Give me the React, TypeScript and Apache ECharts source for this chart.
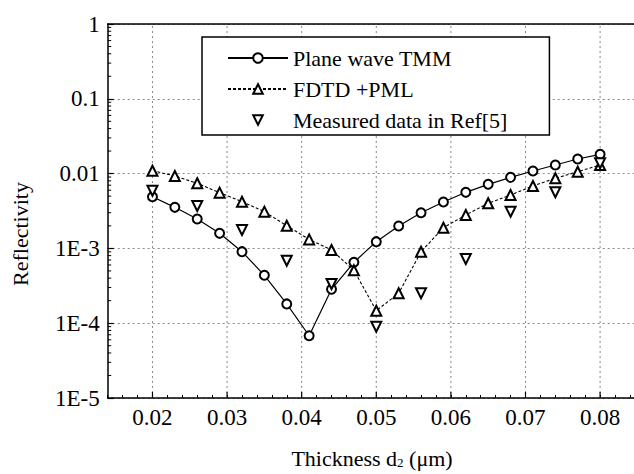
import React, { useEffect, useRef } from "react";
import * as echarts from "echarts";

const xValues = [0.020, 0.023, 0.026, 0.029, 0.032, 0.035, 0.038, 0.041, 0.044, 0.047, 0.050, 0.053, 0.056, 0.059, 0.062, 0.065, 0.068, 0.071, 0.074, 0.077, 0.080];
const tmmValues = [0.00491, 0.00354, 0.00247, 0.00159, 0.000904, 0.000437, 0.000181, 0.000068, 0.000284, 0.000652, 0.00123, 0.00199, 0.0030, 0.00417, 0.00562, 0.00719, 0.00891, 0.01083, 0.01303, 0.01567, 0.01811];
const fdtdValues = [0.01094, 0.00929, 0.00742, 0.00556, 0.00421, 0.00310, 0.00201, 0.00132, 0.000952, 0.000509, 0.000147, 0.000251, 0.000904, 0.00189, 0.00280, 0.00401, 0.00518, 0.00683, 0.00865, 0.01060, 0.01303];
const measuredX = [0.020, 0.026, 0.032, 0.038, 0.044, 0.050, 0.056, 0.062, 0.068, 0.074, 0.080];
const measuredValues = [0.00591, 0.00369, 0.00176, 0.000685, 0.000334, 0.0000898, 0.000251, 0.000722, 0.0031, 0.00562, 0.01374];

const seriesNames = ["Plane wave TMM", "FDTD +PML", "Measured data in Ref[5]"];
const xMajorTicks = [0.02, 0.03, 0.04, 0.05, 0.06, 0.07, 0.08];
const yTickLabels = ["1E-5", "1E-4", "1E-3", "0.01", "0.1", "1"];
const yMinorMantissas = [2, 3, 4, 5, 6, 7, 8, 9];
const yDecades = [-5, -4, -3, -2, -1];

const X_MIN = 0.014;
const X_MAX = 0.085;
const Y_MIN = 1e-5;
const Y_MAX = 1;
const FONT = "Liberation Serif, serif";

export default function App() {
  const ref = useRef<HTMLDivElement>(null);
  useEffect(() => {
    if (!ref.current) return;
    const chart = echarts.init(ref.current, undefined, { renderer: "svg" });

    const decor: number[][] = [];
    xMajorTicks.forEach((x) => decor.push([x, Y_MIN, 0]));
    yDecades.forEach((e) =>
      yMinorMantissas.forEach((m) => decor.push([X_MIN, m * Math.pow(10, e), 1]))
    );

    const option: any = {
      animation: false,
      backgroundColor: "#fff",
      grid: {
        left: 107.7,
        right: -3.4,
        top: 24,
        bottom: 76,
        show: false,
        containLabel: false,
        outerBoundsMode: "none",
      },
      legend: {
        data: seriesNames,
        orient: "vertical",
        left: 202,
        top: 37,
        padding: [10, 42, 4, 25],
        itemGap: 9,
        itemWidth: 60,
        itemHeight: 12,
        backgroundColor: "#fff",
        borderColor: "#000",
        borderWidth: 1.5,
        borderRadius: 0,
        textStyle: { fontFamily: FONT, fontSize: 22, color: "#000", lineHeight: 22 },
        selectedMode: false,
      },
      xAxis: [
        {
          type: "value",
          min: X_MIN,
          max: X_MAX,
          interval: 0.002,
          axisLine: { show: true, lineStyle: { color: "#000", width: 1.5 } },
          axisTick: { show: true, inside: true, length: 3, lineStyle: { color: "#000", width: 1 } },
          axisLabel: {
            show: true,
            margin: 8,
            fontFamily: FONT,
            fontSize: 23,
            color: "#000",
            hideOverlap: false,
            formatter: (v: number) => {
              const k = v * 100;
              return Math.abs(k - Math.round(k)) < 1e-6 ? v.toFixed(2) : "";
            },
          },
          splitLine: { show: false },
        },
        {
          type: "value",
          position: "top",
          min: X_MIN,
          max: X_MAX,
          axisLine: { show: true, onZero: false, lineStyle: { color: "#000", width: 1.5 } },
          axisTick: { show: false },
          axisLabel: { show: false },
          splitLine: { show: false },
        },
      ],
      yAxis: {
        type: "log",
        logBase: 10,
        min: Y_MIN,
        max: Y_MAX,
        splitNumber: 5,
        axisLine: { show: true, lineStyle: { color: "#000", width: 1.5 } },
        axisTick: { show: true, inside: true, length: 6, lineStyle: { color: "#000", width: 1.2 } },
        axisLabel: {
          margin: 8,
          fontFamily: FONT,
          fontSize: 23,
          color: "#000",
          formatter: (v: number) => {
            const e = Math.round(Math.log10(v));
            return yTickLabels[e + 5] ?? "";
          },
        },
        splitLine: { show: true, lineStyle: { color: "#888", type: [2, 3], width: 1 } },
      },
      graphic: [
        {
          type: "text",
          x: 20,
          y: 234,
          rotation: Math.PI / 2,
          style: {
            text: "Reflectivity",
            font: `22px ${FONT}`,
            fill: "#000",
            align: "center",
            verticalAlign: "middle",
          },
        },
        {
          type: "text",
          x: 372,
          y: 458,
          style: {
            text: "{a|Thickness d}{s|2}{a| (μm)}",
            align: "center",
            verticalAlign: "middle",
            rich: {
              a: { fontFamily: FONT, fontSize: 22, fill: "#000", lineHeight: 22, verticalAlign: "bottom" },
              s: { fontFamily: FONT, fontSize: 13, fill: "#000", lineHeight: 22, verticalAlign: "bottom", padding: [6, 0, 0, 0] },
            },
          },
        },
      ],
      series: [
        {
          type: "custom",
          name: "decor",
          silent: true,
          z: 1,
          clip: false,
          data: decor,
          renderItem: (params: any, api: any) => {
            const kind = api.value(2);
            if (kind === 0) {
              const x = api.value(0);
              const p0 = api.coord([x, Y_MIN]);
              const p1 = api.coord([x, Y_MAX]);
              return {
                type: "group",
                children: [
                  {
                    type: "line",
                    shape: { x1: p0[0], y1: p0[1], x2: p1[0], y2: p1[1] },
                    style: { stroke: "#888", lineWidth: 1, lineDash: [2, 3] },
                  },
                  {
                    type: "line",
                    shape: { x1: p0[0], y1: p0[1], x2: p0[0], y2: p0[1] - 6 },
                    style: { stroke: "#000", lineWidth: 1.2 },
                  },
                ],
              };
            }
            const p = api.coord([api.value(0), api.value(1)]);
            return {
              type: "line",
              shape: { x1: p[0], y1: p[1], x2: p[0] + 3.5, y2: p[1] },
              style: { stroke: "#000", lineWidth: 1 },
            };
          },
        },
        {
          type: "line",
          name: seriesNames[0],
          data: xValues.map((x, i) => [x, tmmValues[i]]),
          symbol: "emptyCircle",
          symbolSize: 9,
          lineStyle: { color: "#000", width: 1.2, type: "solid" },
          itemStyle: { color: "#000", borderWidth: 1.2, opacity: 1 },
          z: 3,
        },
        {
          type: "line",
          name: seriesNames[1],
          data: xValues.map((x, i) => [x, fdtdValues[i]]),
          symbol: "emptyTriangle",
          symbolSize: 10,
          lineStyle: { color: "#000", width: 1.1, type: [3, 2] },
          itemStyle: { color: "#000", borderWidth: 1.2, opacity: 1 },
          z: 3,
        },
        {
          type: "line",
          name: seriesNames[2],
          data: measuredX.map((x, i) => [x, measuredValues[i]]),
          symbol: "emptyTriangle",
          symbolRotate: 180,
          symbolSize: 10,
          showAllSymbol: true,
          lineStyle: { color: "#000", width: 0, opacity: 0 },
          itemStyle: { color: "#000", borderWidth: 1.2, opacity: 1 },
          z: 4,
        },
      ],
    };
    chart.setOption(option);
    return () => chart.dispose();
  }, []);
  return (
    <div
      ref={ref}
      style={{ position: "fixed", left: 0, top: 0, width: 634, height: 474, background: "#fff" }}
    />
  );
}
